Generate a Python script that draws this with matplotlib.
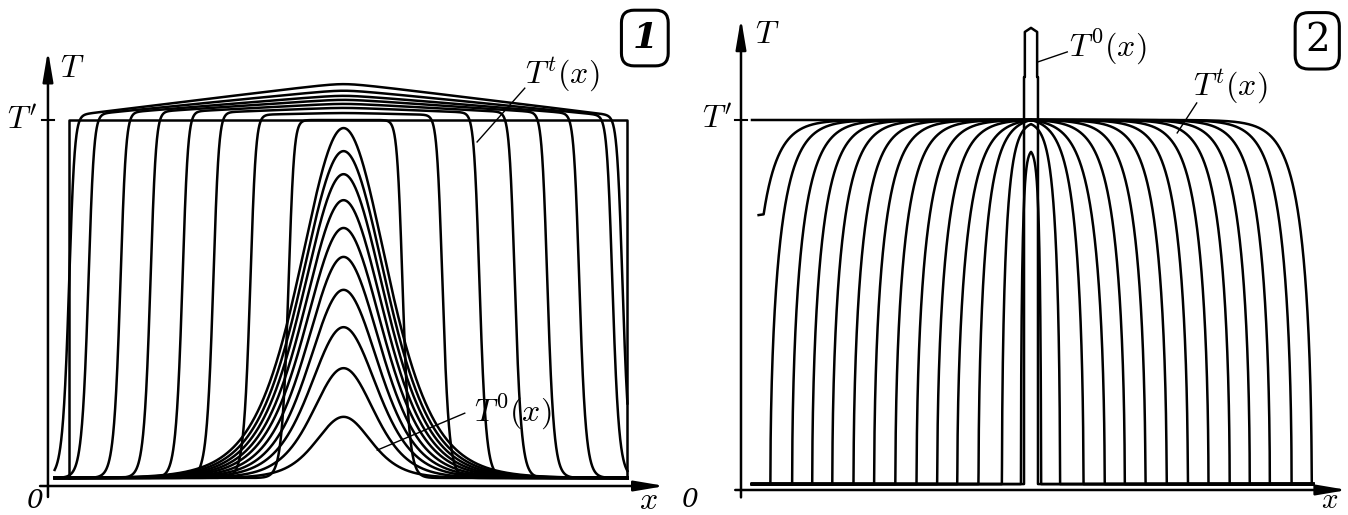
import numpy as np
import matplotlib.pyplot as plt

plt.rcParams['mathtext.fontset'] = 'cm'

# ---------------- panel 1 : data ----------------
base1 = 0.022          # level of the cold state
center1 = 49.3         # centre of the heated spot
gauss_peak = [0.978, 0.915, 0.852, 0.781, 0.705, 0.626, 0.536, 0.434, 0.322, 0.189]
gauss_width = [10.4, 10.1, 9.8, 9.5, 9.2, 8.8, 8.4, 8.0, 7.4, 6.6]
front_left = [39.4, 32.6, 26.0, 20.5, 14.8, 9.45, 3.74, 0.3]
front_right = [59.9, 67.0, 73.6, 79.9, 85.7, 91.4, 97.3, 99.1]
front_top = [1.0, 1.019, 1.033, 1.044, 1.055, 1.066, 1.08, 1.098]
final1 = [0.3, 99.9]   # edges of the T' state

# ---------------- panel 2 : data ----------------
base2 = 0.016
center2 = 50.0
arch_hw = [1.8, 5.2, 9.4, 13.2, 16.8, 20.5, 24.3, 28.1, 31.8, 35.6, 39.2, 42.8, 46.7, 50.3]
arch_peak = [0.914, 0.989, 1.0, 1.0, 1.0, 1.0, 1.0, 1.0, 1.0, 1.0, 1.0, 1.0, 1.0, 1.0]
hook_T = 0.743
spike_x = [0.0, 48.75, 48.75, 48.9, 48.9, 50.0, 51.1, 51.1, 51.25, 51.25, 100.3]
spike_T = [base2, base2, 1.116, 1.116, 1.238, 1.249, 1.238, 1.116, 1.116, base2, base2]


def front(d, w=0.45, nu=0.6):
    # asymmetric front: sharp top corner, short tail at the foot
    d0 = -w * np.log(2 ** (1 / nu) - 1)
    return (1 + np.exp(np.clip(-(d + d0) / w, None, 700))) ** (-nu)


def arch(x, c, hw, peak, base):
    lam = min(3.0, hw / 4)
    s = np.clip(hw - np.abs(x - c), 0, None)
    g = np.sqrt(1 - np.exp(-s / lam)) / np.sqrt(1 - np.exp(-hw / lam))
    return base + (peak - base) * g


W, H = 1348, 515
fig = plt.figure(figsize=(W / 100, H / 100), dpi=100)
ax1 = fig.add_axes([0, 0, 680 / W, 1])
ax2 = fig.add_axes([680 / W, 0, 668 / W, 1])
ax1.set_xlim(-11.94, 109.27)
ax1.set_ylim(-0.0792, 1.3279)
ax2.set_xlim(-12.90, 106.81)
ax2.set_ylim(-0.0676, 1.3243)
for ax in (ax1, ax2):
    ax.axis('off')

lw = 1.8
kw = dict(color='black', lw=lw, solid_joinstyle='round')
arrow = dict(arrowstyle='-|>,head_length=1.3,head_width=0.22', lw=1.8,
             color='black', mutation_scale=14, shrinkA=0, shrinkB=0)
fs = 23

# ---- panel 1 curves ----
xs = np.linspace(-2.2, 99.9, 5000)
for a, s in zip(gauss_peak, gauss_width):
    ax1.plot(xs, base1 + (a - base1) / np.cosh((xs - center1) / s) ** 2, **kw)

tent = np.clip(1 - np.sqrt((xs - center1) ** 2 + 9) / 55, 0, None) / (1 - 3 / 55)
for xl, xr, top in zip(front_left, front_right, front_top):
    top_x = 1 + (top - 1) * tent
    ax1.plot(xs, base1 + (top_x - base1) * front(xs - xl) * front(xr - xs), **kw)

ax1.plot([final1[0], final1[0], final1[1], final1[1]], [base1, 1, 1, base1], **kw)

# axes of panel 1
ax1.annotate('', xy=(106.6, 0), xytext=(-4.8, 0), arrowprops=arrow)
ax1.annotate('', xy=(-3.39, 1.19), xytext=(-3.39, -0.03), arrowprops=arrow)
ax1.plot([-4.5, -2.3], [1, 1], color='black', lw=1.5)
ax1.text(0.9, 1.142, r'$T$', fontsize=fs, ha='center', va='center')
ax1.text(-8.0, 1.0, r"$T'$", fontsize=fs, ha='center', va='center')
ax1.text(-5.7, -0.04, '0', fontsize=19, ha='center', va='center',
         family='DejaVu Serif', style='italic')
ax1.text(103.6, -0.04, r'$x$', fontsize=fs, ha='center', va='center')

ax1.text(88.2, 1.123, r'$T^t(x)$', fontsize=fs, ha='center', va='center')
ax1.plot([81.6, 73.1], [1.087, 0.94], color='black', lw=1.0)
ax1.text(79.5, 0.2, r'$T^0(x)$', fontsize=fs, ha='center', va='center')
ax1.plot([70.9, 55.3], [0.199, 0.098], color='black', lw=1.0)

ax1.text(103.0, 1.224, '1', fontsize=26, ha='center', va='center',
         family='DejaVu Serif', style='italic', weight='bold',
         bbox=dict(boxstyle='round,pad=0.3,rounding_size=0.35', fc='white', ec='black', lw=2.2))

# ---- panel 2 curves ----
xs2 = np.linspace(0.0, 100.6, 4000)
for hw, pk in zip(arch_hw[:-1], arch_peak[:-1]):
    ax2.plot(xs2, arch(xs2, center2, hw, pk, base2), **kw)

# outermost state: flat T' line on the left, its own front on the right
outer = arch(xs2, center2, arch_hw[-1], arch_peak[-1], base2)
ax2.plot(xs2, np.where(xs2 < center2, arch_peak[-1], outer), **kw)
# the cut-off left part of it (hook)
left = (xs2 < center2) & (outer >= hook_T)
x_hook = xs2[left][0]
ax2.plot(np.r_[x_hook - 0.9, xs2[left]], np.r_[hook_T, outer[left]], **kw)

ax2.plot(spike_x, spike_T, **kw)

# axes of panel 2
ax2.annotate('', xy=(106.7, 0), xytext=(-3.0, 0), arrowprops=arrow)
ax2.annotate('', xy=(-1.97, 1.275), xytext=(-1.97, -0.02), arrowprops=arrow)
ax2.plot([-3.1, -0.9], [1, 1], color='black', lw=1.5)
ax2.text(2.7, 1.23, r'$T$', fontsize=fs, ha='center', va='center')
ax2.text(-6.3, 1.0, r"$T'$", fontsize=fs, ha='center', va='center')
ax2.text(-11.1, -0.025, '0', fontsize=19, ha='center', va='center',
         family='DejaVu Serif', style='italic')
ax2.text(103.5, -0.027, r'$x$', fontsize=21, ha='center', va='center')

ax2.text(63.8, 1.197, r'$T^0(x)$', fontsize=fs, ha='center', va='center')
ax2.plot([56.5, 51.25], [1.184, 1.157], color='black', lw=1.0)
ax2.text(85.7, 1.089, r'$T^t(x)$', fontsize=fs, ha='center', va='center')
ax2.plot([79.7, 76.2], [1.046, 0.965], color='black', lw=1.0)

ax2.text(101.3, 1.214, '2', fontsize=28, ha='center', va='center',
         family='DejaVu Serif',
         bbox=dict(boxstyle='round,pad=0.25,rounding_size=0.35', fc='white', ec='black', lw=2.2))

fig.savefig('out.png', dpi=100)
